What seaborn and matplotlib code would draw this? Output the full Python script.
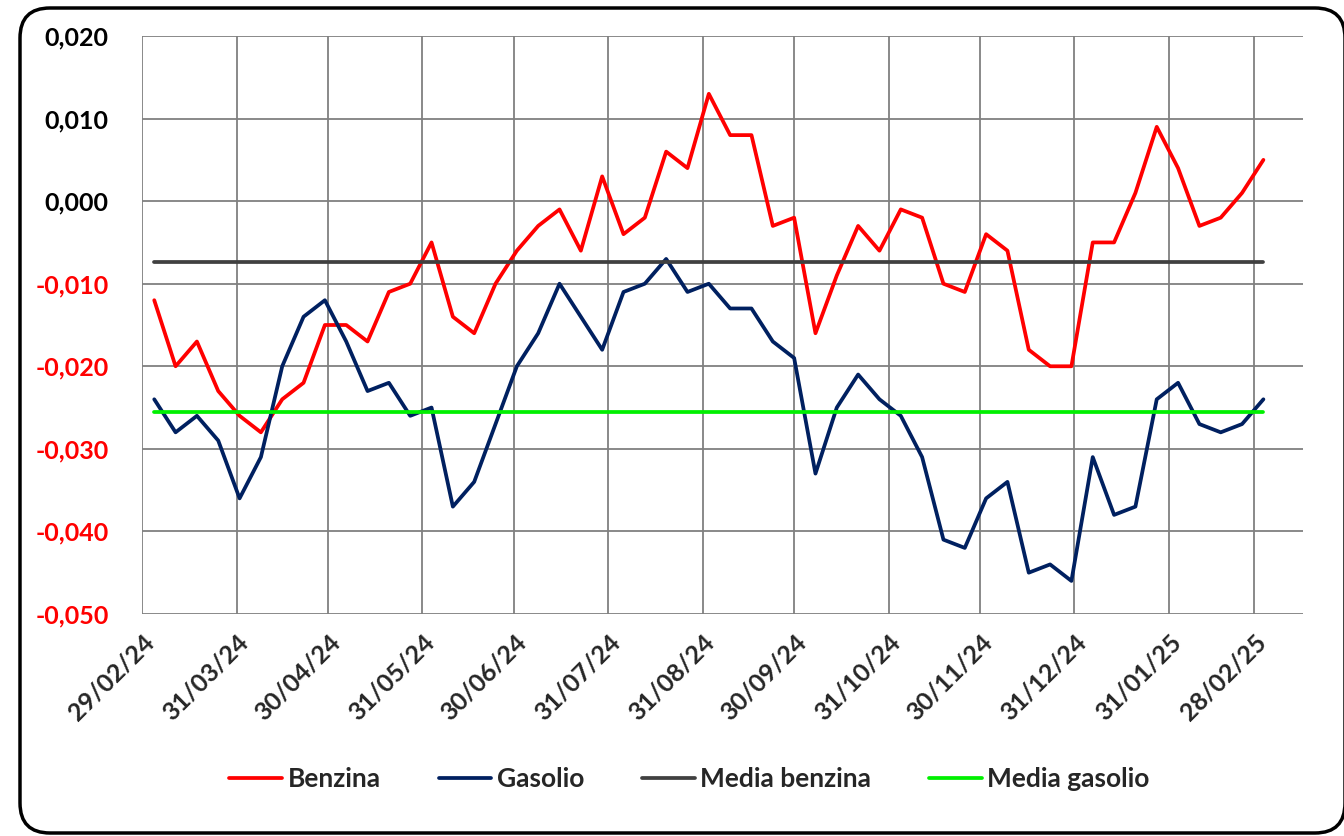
import pandas as pd
import numpy as np
import matplotlib.pyplot as plt
from matplotlib.patches import FancyBboxPatch
from matplotlib.transforms import IdentityTransform
import seaborn as sns

# Rilevazioni settimanali (lunedi)
data_inizio = "2024-03-04"
data_fine = "2025-03-03"

benzina = [-0.012, -0.020, -0.017, -0.023, -0.026, -0.028, -0.024, -0.022, -0.015, -0.015,
           -0.017, -0.011, -0.010, -0.005, -0.014, -0.016, -0.010, -0.006, -0.003, -0.001,
           -0.006, 0.003, -0.004, -0.002, 0.006, 0.004, 0.013, 0.008, 0.008, -0.003,
           -0.002, -0.016, -0.009, -0.003, -0.006, -0.001, -0.002, -0.010, -0.011, -0.004,
           -0.006, -0.018, -0.020, -0.020, -0.005, -0.005, 0.001, 0.009, 0.004, -0.003,
           -0.002, 0.001, 0.005]
gasolio = [-0.024, -0.028, -0.026, -0.029, -0.036, -0.031, -0.020, -0.014, -0.012, -0.017,
           -0.023, -0.022, -0.026, -0.025, -0.037, -0.034, -0.027, -0.020, -0.016, -0.010,
           -0.014, -0.018, -0.011, -0.010, -0.007, -0.011, -0.010, -0.013, -0.013, -0.017,
           -0.019, -0.033, -0.025, -0.021, -0.024, -0.026, -0.031, -0.041, -0.042, -0.036,
           -0.034, -0.045, -0.044, -0.046, -0.031, -0.038, -0.037, -0.024, -0.022, -0.027,
           -0.028, -0.027, -0.024]
media_benzina = -0.0074
media_gasolio = -0.0255

serie = ["Benzina", "Gasolio", "Media benzina", "Media gasolio"]
colori = ["#FF0000", "#002060", "#404040", "#00F000"]

etichette_x = ["29/02/24", "31/03/24", "30/04/24", "31/05/24", "30/06/24", "31/07/24",
               "31/08/24", "30/09/24", "31/10/24", "30/11/24", "31/12/24", "31/01/25",
               "28/02/25"]
valori_y = [0.020, 0.010, 0.000, -0.010, -0.020, -0.030, -0.040, -0.050]

# Tabella in formato lungo
date = pd.date_range(data_inizio, data_fine, freq="7D")
df = pd.DataFrame({
    "data": date,
    "Benzina": benzina,
    "Gasolio": gasolio,
    "Media benzina": media_benzina,
    "Media gasolio": media_gasolio,
}).melt(id_vars="data", var_name="serie", value_name="valore")

sns.set_style("white")
plt.rcParams["font.family"] = ["Lato", "DejaVu Sans"]
plt.rcParams["font.weight"] = "bold"

fig = plt.figure(figsize=(13.44, 8.36), dpi=100)
ax = fig.add_axes([0.1057, 0.2656, 0.8638, 0.6913])
ax.set_axisbelow(True)

sns.lineplot(data=df, x="data", y="valore", hue="serie", hue_order=serie,
             palette=dict(zip(serie, colori)), linewidth=2.7, ax=ax)

# Assi
ax.set_xlim(pd.Timestamp("2024-02-29"), pd.Timestamp("2025-03-16"))
ax.set_ylim(-0.050, 0.020)
ax.set_xticks(pd.to_datetime(etichette_x, format="%d/%m/%y"))
ax.set_xticklabels(etichette_x, rotation=45, ha="right", rotation_mode="anchor",
                   fontsize=18, fontweight="bold")
ax.set_yticks(valori_y)
ax.set_yticklabels([f"{v:.3f}".replace(".", ",") for v in valori_y],
                   fontsize=18, fontweight="bold")
for lab, v in zip(ax.get_yticklabels(), valori_y):
    lab.set_color("#FF0000" if v < 0 else "black")
ax.set_xlabel("")
ax.set_ylabel("")
ax.grid(True, color="#808080", linewidth=1.3)
ax.tick_params(axis="both", length=8, width=1.3, color="#808080")
ax.tick_params(axis="y", pad=16)
ax.tick_params(axis="x", pad=4)
for s in ax.spines.values():
    s.set_visible(False)

# Legenda in basso
handles, labels = ax.get_legend_handles_labels()
ax.get_legend().remove()
fig.legend(handles, labels, loc="center", bbox_to_anchor=(0.513, 0.068), ncol=4,
           frameon=False, handlelength=2.0, handletextpad=0.2, columnspacing=2.2,
           prop={"size": 19, "weight": "bold"})

# Cornice arrotondata
cornice = FancyBboxPatch((20, 3), 1325, 825, boxstyle="round,pad=0,rounding_size=30",
                         transform=IdentityTransform(), fill=False, lw=2.5, ec="black")
fig.patches.append(cornice)

fig.savefig("out.png", dpi=100)
